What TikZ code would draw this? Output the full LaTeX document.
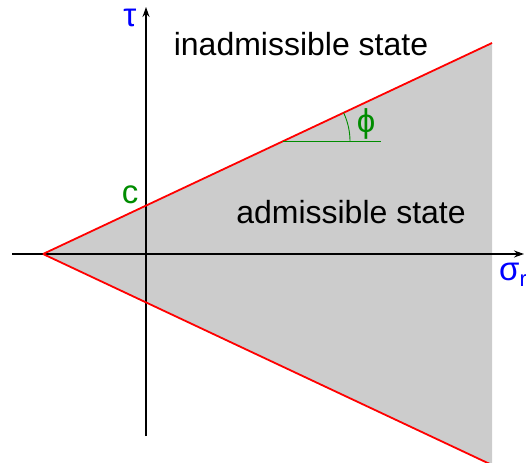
\documentclass[tikz,border=0pt]{standalone}
\usepackage{fontspec}
\setmainfont{Liberation Sans}
\usetikzlibrary{arrows.meta}
\definecolor{fillgray}{RGB}{204,204,204}
\definecolor{lblgreen}{RGB}{0,140,0}
\tikzset{
  axis/.style={line width=1.6pt,-{Stealth[length=10pt,width=7pt]}},
  envelope/.style={red,line width=1.8pt},
  lbl/.style={inner sep=0pt,font=\fontsize{32}{36}\selectfont},
  sym/.style={inner sep=0pt,font=\fontsize{33}{36}\selectfont}
}
\begin{document}
\begin{tikzpicture}[x=1pt,y=-1pt]
\useasboundingbox (0,0) rectangle (526,462);
\clip (0,0) rectangle (526,462);
\coordinate (apex) at (43,254);
\coordinate (top) at (492,43);
\coordinate (bot) at (492,465);
\fill[fillgray] (apex) -- (top) -- (bot) -- cycle;
\coordinate (xs) at (12,254);
\coordinate (xe) at (524,254);
\coordinate (ys) at (146,436);
\coordinate (ye) at (146,7);
\draw[axis] (xs) -- (xe);
\draw[axis] (ys) -- (ye);
\draw[envelope] (apex) -- (top);
\draw[envelope] (apex) -- (bot);
\coordinate (ac) at (283,141.3);
\coordinate (ae) at (381,141.3);
\draw[lblgreen,line width=0.9pt] (ac) -- (ae);
\draw[lblgreen,line width=0.9pt] ([shift={(0:67)}]ac) arc[start angle=0,end angle=-25.2,radius=67];
\node[lbl,anchor=base] (inad) at (301,56) {inadmissible state};
\node[lbl,anchor=base] (adm) at (351,223) {admissible state};
\node[sym,blue,anchor=base] (tau) at (130,27) {τ};
\node[sym,blue,anchor=base west] (sig) at (499,280) {σ\raisebox{-6pt}{\fontsize{22}{24}\selectfont r}};
\node[sym,lblgreen,anchor=base] (c) at (130,203) {c};
\node[sym,lblgreen,anchor=base] (phi) at (366,133) {ϕ};
\end{tikzpicture}
\end{document}
